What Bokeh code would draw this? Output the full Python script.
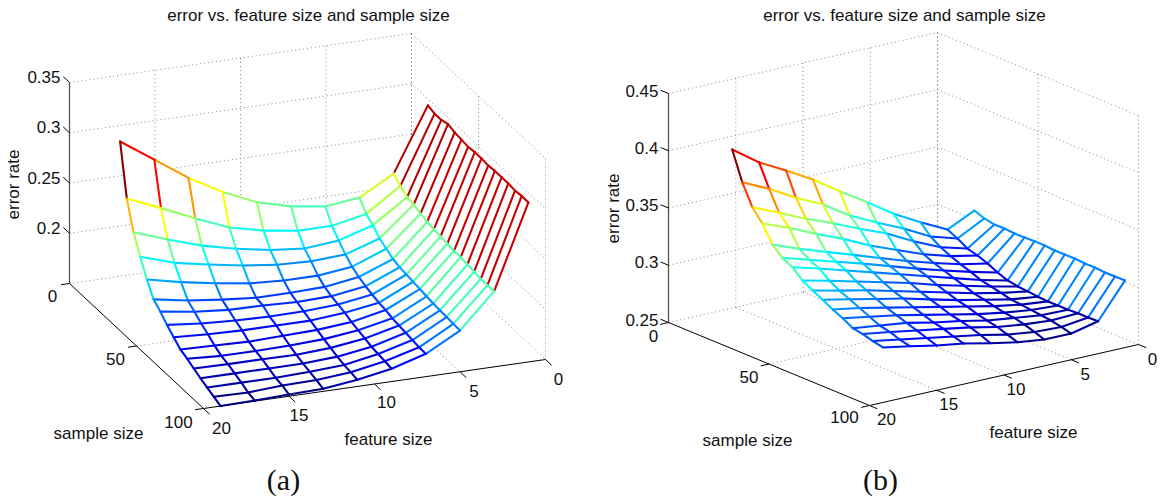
from bokeh.plotting import figure
from bokeh.embed import file_html
from bokeh.resources import INLINE
from bokeh.models import ColumnDataSource
from bokeh.core.properties import value
import numpy as np

feature_sizes = [1, 3, 5, 7, 9, 11, 13, 15, 17, 19]
sample_sizes = [25, 30, 35, 40, 45, 50, 55, 60, 65, 70, 75, 80, 85, 90, 95, 100]

a_f1 = [.312, .310, .310, .312, .310, .309, .308, .309, .309, .308, .309, .309, .309, .308, .309, .3087]
a_f3 = [.249, .243, .238, .237, .234, .232, .231, .230, .229, .228, .228, .227, .226, .225, .225, .2253]
a_f5 = [.230, .220, .215, .208, .204, .200, .198, .197, .196, .195, .194, .193, .1925, .192, .1915, .191]
a_f7 = [.226, .213, .2046, .197, .191, .187, .184, .182, .180, .179, .177, .176, .175, .174, .173, .1727]
a_f9 = [.231, .213, .2015, .195, .187, .182, .179, .177, .175, .172, .170, .168, .166, .165, .164, .1627]
a_f11 = [.240, .218, .205, .1965, .187, .181, .178, .175, .172, .169, .166, .1635, .161, .159, .158, .1566]
a_f13 = [.255, .226, .211, .2006, .189, .181, .1795, .1747, .172, .168, .1645, .1615, .159, .157, .155, .1525]
a_f15 = [.274, .240, .219, .2065, .194, .184, .180, .1756, .172, .167, .164, .162, .159, .156, .1545, .1517]
a_f17 = [.297, .255, .230, .213, .200, .188, .183, .1775, .173, .168, .164, .162, .159, .156, .1524, .1506]
a_f19 = [.320, .2695, .242, .224, .2075, .194, .188, .181, .175, .169, .166, .1625, .159, .156, .153, .150]

b_f1 = [.3153, .312, .3103, .3105, .3097, .3099, .3103, .3101, .3094, .3095, .3097, .3089, .309, .3083, .3084, .3086]
b_f3 = [.304, .2998, .2947, .2922, .2889, .2846, .2813, .2797, .279, .278, .2775, .2775, .2775, .278, .278, .2783]
b_f5 = [.3158, .3069, .3012, .297, .2935, .2905, .287, .285, .283, .281, .280, .279, .278, .277, .275, .2729]
b_f7 = [.3284, .3192, .3117, .304, .300, .297, .294, .291, .288, .286, .284, .282, .281, .279, .276, .273]
b_f9 = [.344, .3298, .3238, .313, .307, .304, .301, .297, .294, .291, .289, .286, .284, .282, .279, .276]
b_f11 = [.3588, .3412, .3332, .3223, .315, .3115, .308, .304, .300, .297, .294, .291, .289, .287, .284, .2804]
b_f13 = [.3744, .3562, .3434, .3334, .323, .319, .315, .310, .306, .303, .299, .296, .293, .291, .288, .2855]
b_f15 = [.3876, .3673, .3526, .3431, .331, .326, .322, .316, .312, .308, .304, .301, .298, .295, .292, .2891]
b_f17 = [.400, .3805, .3632, .3537, .339, .333, .329, .322, .317, .313, .309, .305, .301, .299, .296, .2938]
b_f19 = [.4166, .3916, .3734, .3628, .348, .340, .3355, .3275, .3224, .318, .313, .309, .304, .3025, .300, .298]

feature_ticks = [0, 5, 10, 15, 20]
sample_ticks = [0, 50, 100]
z_ticks_a = [0.2, 0.25, 0.3, 0.35]
z_ticks_b = [0.25, 0.3, 0.35, 0.4, 0.45]
z_labels_a = ["0.2", "0.25", "0.3", "0.35"]
z_labels_b = ["0.25", "0.3", "0.35", "0.4", "0.45"]
title_text = "error vs. feature size and sample size"

FONT = value("Liberation Sans")
p = figure(width=1160, height=498, x_range=(0, 1160), y_range=(498, 0),
           output_backend="svg", toolbar_location=None, min_border=0)
p.axis.visible = False
p.grid.visible = False
p.outline_line_color = None
p.background_fill_color = "white"


def jet(t):
    t = min(max(t, 0.0), 1.0)
    t = (np.floor(t * 63.999) + 0.5) / 64
    r = np.clip(min(4 * t - 1.5, -4 * t + 4.5), 0, 1)
    g = np.clip(min(4 * t - 0.5, -4 * t + 3.5), 0, 1)
    b = np.clip(min(4 * t + 0.5, -4 * t + 2.5), 0, 1)
    return "#%02x%02x%02x" % (int(r * 255), int(g * 255), int(b * 255))


def panel(grid, B, A, C, zmin, zmax, zpx, zticks, zlabels, zlab_x, zlab_dy,
          s_off, f_off, titles):
    B, A, C = map(np.array, (B, A, C))

    def proj(f, s, z):
        f = np.asarray(f, float)
        s = np.asarray(s, float)
        z = np.asarray(z, float)
        x = B[0] + (100 - s) / 100 * (A[0] - B[0]) + (20 - f) / 20 * (C[0] - B[0])
        y = B[1] + (100 - s) / 100 * (A[1] - B[1]) + (20 - f) / 20 * (C[1] - B[1]) - (z - zmin) / (zmax - zmin) * zpx
        return x, y

    def seg(p0, p1, color, width, dash="solid"):
        x0, y0 = proj(*p0)
        x1, y1 = proj(*p1)
        p.line([float(x0), float(x1)], [float(y0), float(y1)], line_color=color,
               line_width=width, line_dash=dash)

    GRID = "#8a8a8a"
    DOT = "1 3"
    allz = [zmin] + [t for t in zticks if t > zmin]
    for z in allz:
        seg((20, 0, z), (0, 0, z), GRID, 1, DOT)
        seg((0, 0, z), (0, 100, z), GRID, 1, DOT)
    for f in (5, 10, 15):
        seg((f, 0, zmin), (f, 0, zmax), GRID, 1, DOT)
        seg((f, 0, zmin), (f, 100, zmin), GRID, 1, DOT)
    seg((0, 50, zmin), (0, 50, zmax), GRID, 1, DOT)
    seg((20, 50, zmin), (0, 50, zmin), GRID, 1, DOT)
    seg((0, 100, zmin), (0, 100, zmax), GRID, 1, DOT)
    seg((0, 0, zmin), (0, 0, zmax), "#444444", 1, DOT)

    # axes
    seg((20, 0, zmin), (20, 100, zmin), "#000000", 1)
    seg((20, 100, zmin), (0, 100, zmin), "#000000", 1)
    seg((20, 0, zmin), (20, 0, zmax), "#555555", 1.3)

    sv = (A - B) / np.linalg.norm(A - B) * 8.5
    fv = (C - B) / np.linalg.norm(C - B) * 8.5
    for z, lab in zip(zticks, zlabels):
        x, y = proj(20, 0, z)
        p.line([float(x), float(x + sv[0])], [float(y), float(y + sv[1])], line_color="#000000", line_width=1)
        p.text([zlab_x], [float(y) + zlab_dy], text=[lab], text_font=FONT, text_font_size="17px",
               text_align="right", text_baseline="middle", text_color="#111111")
    for s, off in zip(sample_ticks, s_off):
        x, y = proj(20, s, zmin)
        p.line([float(x), float(x - fv[0])], [float(y), float(y - fv[1])], line_color="#000000", line_width=1)
        p.text([float(x) + off[0]], [float(y) + off[1]], text=[str(s)], text_font=FONT, text_font_size="17px",
               text_align="center", text_baseline="middle", text_color="#111111")
    for f, off in zip(feature_ticks, f_off):
        x, y = proj(f, 100, zmin)
        p.line([float(x), float(x - sv[0])], [float(y), float(y - sv[1])], line_color="#000000", line_width=1)
        p.text([float(x) + off[0]], [float(y) + off[1]], text=[str(f)], text_font=FONT, text_font_size="17px",
               text_align="center", text_baseline="middle", text_color="#111111")

    # surface
    z = np.array(grid)
    cmin, cmax = z.min(), z.max()
    nf, ns = z.shape
    F, S = np.meshgrid(feature_sizes, sample_sizes, indexing="ij")
    X, Y = proj(F, S, z)
    qx, qy = [], []
    for i in range(nf - 1):
        for j in range(ns - 1):
            qx.append([X[i, j], X[i + 1, j], X[i + 1, j + 1], X[i, j + 1]])
            qy.append([Y[i, j], Y[i + 1, j], Y[i + 1, j + 1], Y[i, j + 1]])
    p.patches(qx, qy, fill_color="white", line_color="white", line_width=0.5)
    x0, y0, x1, y1, col = [], [], [], [], []
    for i in range(nf):
        for j in range(ns):
            c = jet((z[i, j] - cmin) / (cmax - cmin))
            if i + 1 < nf:
                x0.append(X[i, j]); y0.append(Y[i, j]); x1.append(X[i + 1, j]); y1.append(Y[i + 1, j]); col.append(c)
            if j + 1 < ns:
                x0.append(X[i, j]); y0.append(Y[i, j]); x1.append(X[i, j + 1]); y1.append(Y[i, j + 1]); col.append(c)
    src = ColumnDataSource(dict(x0=x0, y0=y0, x1=x1, y1=y1, c=col))
    p.segment("x0", "y0", "x1", "y1", source=src, line_color="c", line_width=2.1, line_cap="round")

    for t in titles:
        p.text([t[0]], [t[1]], text=[t[2]], text_font=value(t[5]) if len(t) > 5 else FONT,
               text_font_size=t[3], angle=t[4], text_align="center", text_baseline="middle", text_color="#111111")


panel([a_f1, a_f3, a_f5, a_f7, a_f9, a_f11, a_f13, a_f15, a_f17, a_f19],
      (203, 408), (69, 283), (545, 359), 0.15, 0.35, 201,
      z_ticks_a, z_labels_a, 60, -5.5,
      [(-17, 12), (-21, 12.5), (-25, 13)],
      [(13, 19), (14, 19), (12, 18), (10, 19), (18, 19)],
      [(308, 14.7, title_text, "17px", 0),
       (13, 184, "error rate", "17px", np.pi / 2),
       (98, 433, "sample size", "17px", 0),
       (388, 439, "feature size", "17px", 0),
       (283, 479, "(a)", "30px", 0, "Liberation Serif")])

panel([b_f1, b_f3, b_f5, b_f7, b_f9, b_f11, b_f13, b_f15, b_f17, b_f19],
      (869, 405), (668, 322), (1138, 344), 0.25, 0.45, 229,
      z_ticks_b, z_labels_b, 658, -3,
      [(-15, 13), (-20, 13), (-25, 11)],
      [(14, 14), (14, 14), (12, 14), (12, 14), (17, 13)],
      [(904, 14.7, title_text, "17px", 0),
       (613, 208, "error rate", "17px", np.pi / 2),
       (747, 440, "sample size", "17px", 0),
       (1033, 432, "feature size", "17px", 0),
       (880, 479, "(b)", "30px", 0, "Liberation Serif")])

open("out.html", "w").write(file_html(p, INLINE))
